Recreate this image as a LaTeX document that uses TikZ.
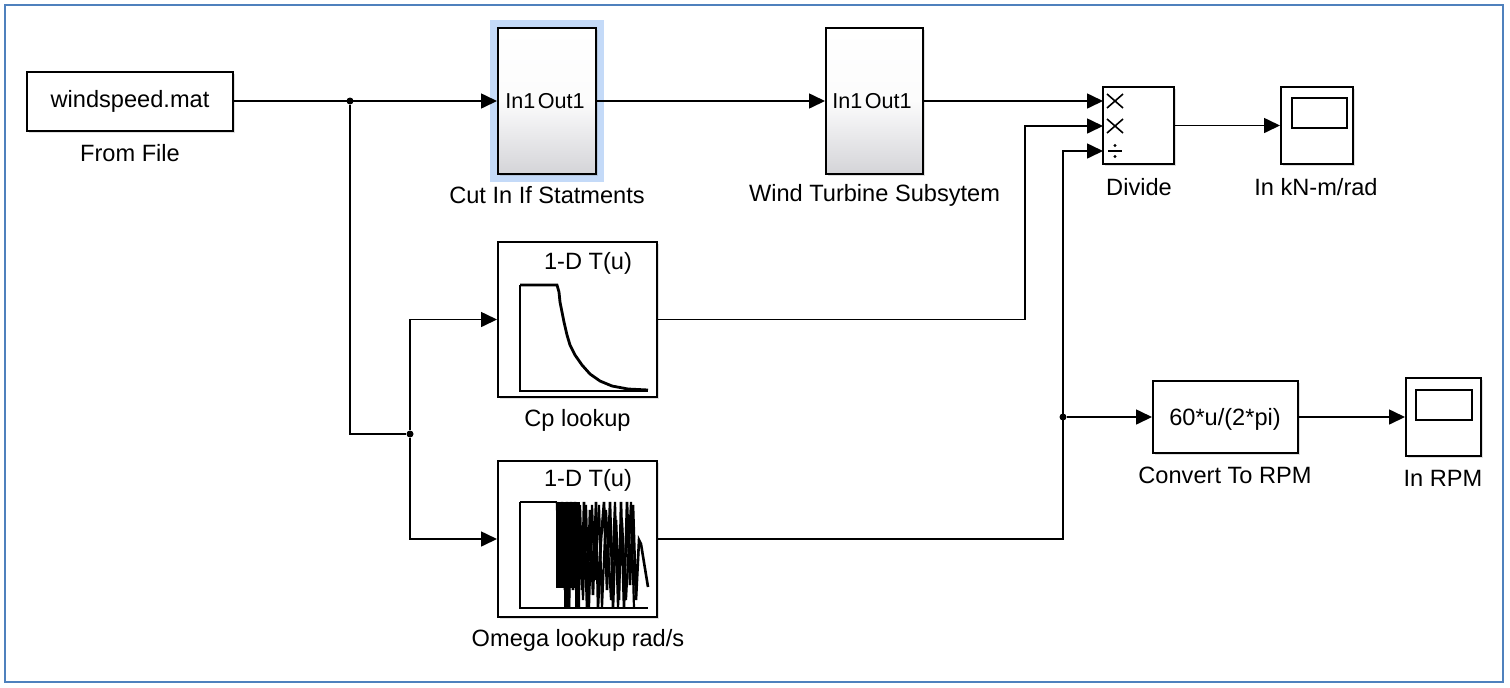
\documentclass[tikz,border=0pt]{standalone}
\usepackage{fontspec}
\setmainfont{Liberation Sans}
\usetikzlibrary{arrows.meta,shadows,calc}
\definecolor{frameblue}{RGB}{79,129,189}
\definecolor{selblue}{RGB}{196,218,248}
\definecolor{subgray}{RGB}{212,212,216}
\tikzset{
  blk/.style={draw=black, line width=1pt, fill=white, inner sep=0pt,
    drop shadow={shadow xshift=1.2pt, shadow yshift=-1.2pt, opacity=0.25}},
  subblk/.style={blk, top color=white, bottom color=subgray, middle color=white!92!subgray},
  lbl/.style={inner sep=0pt, font=\fontsize{11.8}{14}\selectfont},
  wire/.style={line width=0.8pt},
  sig/.style={wire, -{Triangle[length=8pt,width=7.5pt]}},
  dotj/.style={circle, fill=black, inner sep=0pt, minimum size=3.5pt},
}
\begin{document}
\begin{tikzpicture}[x=0.5pt,y=-0.5pt]
\useasboundingbox (0,0) rectangle (1510,687);
\draw[frameblue, line width=1pt] (5,5) rectangle (1503,682);

% selection highlight
\fill[selblue] (490,20) rectangle (604,182);

% blocks
\node[blk, minimum width=103pt, minimum height=29.5pt] (ff) at (130,101) {};
\node[lbl] (fftxt) at (130,101) {windspeed.mat};
\node[lbl] (fflbl) at (130,153) {From File};

\node[subblk, minimum width=49pt, minimum height=73pt] (cut) at (547,101) {};
\node[lbl, font=\fontsize{10.8}{12}\selectfont, anchor=west] (cutin) at (505,101) {In1};
\node[lbl, font=\fontsize{10.8}{12}\selectfont, anchor=east] (cutout) at (585,101) {Out1};
\node[lbl] (cutlbl) at (547,195) {Cut In If Statments};

\node[subblk, minimum width=48.5pt, minimum height=73pt] (wt) at (874.5,101) {};
\node[lbl, font=\fontsize{10.8}{12}\selectfont, anchor=west] (wtin) at (832,101) {In1};
\node[lbl, font=\fontsize{10.8}{12}\selectfont, anchor=east] (wtout) at (912,101) {Out1};
\node[lbl] (wtlbl) at (874.5,195) {Wind Turbine Subsytem};

\node[blk, minimum width=35.5pt, minimum height=38.5pt] (div) at (1138.5,125.5) {};
\node[lbl] (divlbl) at (1139,187) {Divide};
% divide symbols
\draw[line width=0.8pt] (1107,94) -- (1123,108) (1107,108) -- (1123,94);
\draw[line width=0.8pt] (1107,119) -- (1123,133) (1107,133) -- (1123,119);
\draw[line width=0.8pt] (1108,151) -- (1122,151);
\fill (1115,145.5) circle (1.6) (1115,156.5) circle (1.6);

\node[blk, minimum width=36pt, minimum height=38.5pt] (sc1) at (1317,125.5) {};
\draw[line width=1pt] (1292,98) rectangle (1347,128);
\node[lbl] (sc1lbl) at (1316,187) {In kN-m/rad};

\node[blk, minimum width=79.5pt, minimum height=77.5pt] (cp) at (577.5,319.5) {};
\node[lbl] (cptxt) at (588,263) {1-D T(u)};
\draw[line width=0.9pt] (520,285) -- (520,391) -- (648,391);
\draw[line width=1.4pt] (520,285) -- (557,285) -- (559,292) -- (560,302) -- (562,312) -- (564,322) -- (567,335) -- (570,345) -- (575,355) -- (582,365) -- (590,374) -- (600,381) -- (612,386) -- (628,389) -- (648,390);
\node[lbl] (cplbl) at (577.5,420) {Cp lookup};

\node[blk, minimum width=79.5pt, minimum height=78pt] (om) at (577.5,539) {};
\node[lbl] (omtxt) at (588,480) {1-D T(u)};
\draw[line width=0.9pt] (520,502) -- (520,608) -- (648,608);
\draw[line width=0.9pt] (520,502) -- (557,502);
\fill (556,502) rectangle (580,588);
\fill (564,588) rectangle (570,608) (575,588) rectangle (580,608);
\draw[line width=1.3pt] (557,502) -- (560,587) -- (562,502) -- (565,590) -- (567,502) -- (569,608) -- (571,502) -- (573,590) -- (575,502) -- (577,608) -- (579,520) -- (582,590) -- (584,502) -- (587,608) -- (590,510) -- (593,595) -- (596,502) -- (598,608) -- (601,540) -- (604,502) -- (607,590) -- (610,502) -- (613,608) -- (616,520) -- (619,600) -- (621,502) -- (624,608) -- (627,502) -- (630,585) -- (633,505) -- (636,600) -- (639,540) -- (641,544) -- (648,587);
\draw[line width=1.1pt] (580,505) -- (583,600) -- (586,505) -- (589,608) -- (592,505) -- (595,580) -- (599,505) -- (602,608) -- (606,510) -- (611,600) -- (615,502) -- (618,608) -- (622,520) -- (626,600) -- (631,502) -- (634,608);
\node[lbl] (omlbl) at (578,640) {Omega lookup rad/s};

\node[blk, minimum width=72.5pt, minimum height=36pt] (rpm) at (1225.5,417) {};
\node[lbl] (rpmtxt) at (1225,419) {60*u/(2*pi)};
\node[lbl] (rpmlbl) at (1225,475) {Convert To RPM};

\node[blk, minimum width=37.5pt, minimum height=39pt] (sc2) at (1443.5,417) {};
\draw[line width=1pt] (1416,390) rectangle (1472,420);
\node[lbl] (sc2lbl) at (1443,478) {In RPM};

% junctions and ports
\node[dotj] (j1) at (350,101) {};
\node[dotj] (j2) at (410,434) {};
\node[dotj] (j3) at (1063,417) {};
\coordinate (d1) at (1103,101);
\coordinate (d2) at (1103,126);
\coordinate (d3) at (1103,151);

% connectors
\draw[sig] (ff.east) -- (cut.west);
\draw[sig] (cut.east) -- (wt.west);
\draw[sig] (wt.east) -- (d1);
\draw[sig] (div.east) -- (sc1.west);
\draw[wire] (j1) |- (j2);
\draw[sig] (j2) |- (cp.west);
\draw[sig] (j2) |- (om.west);
\draw[sig] (cp.east) -- (1025,319.5) |- (d2);
\draw[sig] (om.east) -- (1063,539) |- (d3);
\draw[sig] (j3) -- (rpm.west);
\draw[sig] (rpm.east) -- (sc2.west);
\end{tikzpicture}
\end{document}
